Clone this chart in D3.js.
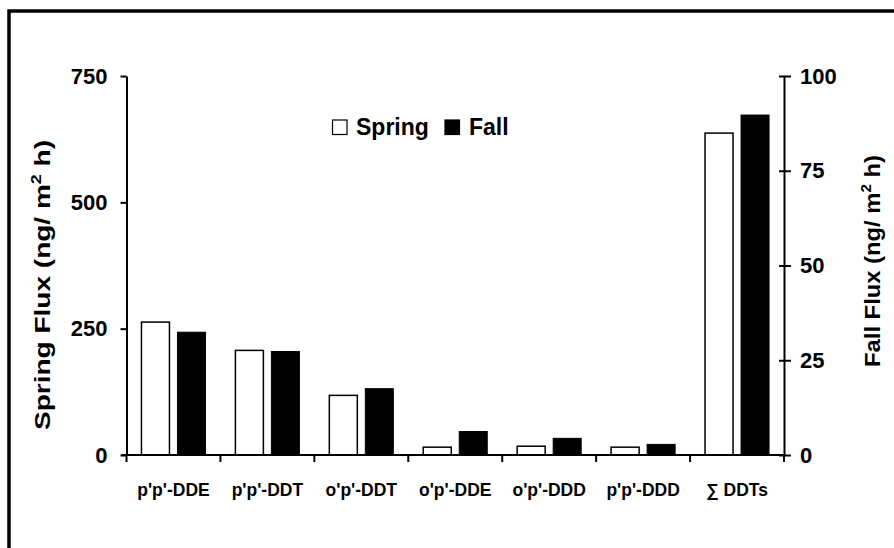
<!DOCTYPE html>
<html>
<head>
<meta charset="utf-8">
<script src="https://cdn.jsdelivr.net/npm/d3@7"></script>
<style>
  html, body { margin: 0; padding: 0; background: #fff; }
  svg { display: block; }
  text { font-family: "Liberation Sans", Arial, sans-serif; font-weight: bold; fill: #000; }
</style>
</head>
<body>
<svg id="chart" width="894" height="548"></svg>
<script>
// ---- data ----
const categories = ["p'p'-DDE", "p'p'-DDT", "o'p'-DDT", "o'p'-DDE", "o'p'-DDD", "p'p'-DDD", "\u2211 DDTs"];
const springFlux = [263, 207, 118, 15.5, 17.4, 15.5, 637];
const fallFlux   = [32.4, 27.3, 17.5, 6.2, 4.4, 2.8, 89.7];
const springTicks = [0, 250, 500, 750];
const fallTicks = [0, 25, 50, 75, 100];
const seriesNames = ["Spring", "Fall"];

const svg = d3.select("#chart");

// outer frame (extends past the picture on the right and bottom)
svg.append("rect")
  .attr("x", 9).attr("y", 11)
  .attr("width", 900).attr("height", 560)
  .attr("fill", "none").attr("stroke", "#000").attr("stroke-width", 3.5);

const x0 = 126.5, x1 = 784, yBase = 455, yTop = 76;

const x = d3.scaleBand().domain(categories).range([x0, x1]).padding(0);
const ySpring = d3.scaleLinear().domain([0, 750]).range([yBase, yTop]);
const yFall = d3.scaleLinear().domain([0, 100]).range([yBase, yTop]);

const barW = 28, gap = 8;

// bars
const g = svg.append("g");
g.selectAll("rect.spring").data(categories).join("rect")
  .attr("class", "spring")
  .attr("x", d => x(d) + x.bandwidth() / 2 - gap / 2 - barW)
  .attr("y", (d, i) => ySpring(springFlux[i]))
  .attr("width", barW)
  .attr("height", (d, i) => yBase - ySpring(springFlux[i]))
  .attr("fill", "#fff").attr("stroke", "#000").attr("stroke-width", 1.5);

g.selectAll("rect.fall").data(categories).join("rect")
  .attr("class", "fall")
  .attr("x", d => x(d) + x.bandwidth() / 2 + gap / 2)
  .attr("y", (d, i) => yFall(fallFlux[i]))
  .attr("width", barW)
  .attr("height", (d, i) => yBase - yFall(fallFlux[i]))
  .attr("fill", "#000").attr("stroke", "#000").attr("stroke-width", 1);

// left axis
const leftAxis = svg.append("g")
  .attr("transform", `translate(${x0},0)`)
  .call(d3.axisLeft(ySpring).tickValues(springTicks).tickSize(6).tickPadding(13).tickSizeOuter(0));
leftAxis.select(".domain").attr("stroke-width", 2);
leftAxis.selectAll(".tick line").attr("stroke-width", 2);
leftAxis.selectAll(".tick text").attr("font-size", 22).attr("font-family", null);

// right axis (ticks cross the line)
const rightAxis = svg.append("g")
  .attr("transform", `translate(${x1},0)`)
  .call(d3.axisRight(yFall).tickValues(fallTicks).tickSize(7).tickPadding(9).tickSizeOuter(0));
rightAxis.select(".domain").attr("stroke-width", 2);
rightAxis.selectAll(".tick line").attr("x1", -5).attr("stroke-width", 2);
rightAxis.selectAll(".tick text").attr("font-size", 22).attr("font-family", null);

// bottom axis: line with ticks at category boundaries
svg.append("line")
  .attr("x1", x0 - 5).attr("x2", x1)
  .attr("y1", yBase).attr("y2", yBase)
  .attr("stroke", "#000").attr("stroke-width", 2);
const boundaries = categories.map(c => x(c)).concat([x1]);
svg.selectAll("line.xtick").data(boundaries).join("line")
  .attr("class", "xtick")
  .attr("x1", d => d).attr("x2", d => d)
  .attr("y1", yBase).attr("y2", yBase + 7)
  .attr("stroke", "#000").attr("stroke-width", 2);

// category labels
svg.selectAll("text.cat").data(categories).join("text")
  .attr("class", "cat")
  .attr("x", d => x(d) + x.bandwidth() / 2)
  .attr("y", 496)
  .attr("text-anchor", "middle")
  .attr("font-size", 17.5)
  .text(d => d);

// axis titles
const lt = svg.append("text")
  .attr("transform", "translate(50,285) rotate(-90)")
  .attr("text-anchor", "middle")
  .attr("font-size", 22)
  .attr("textLength", 290).attr("lengthAdjust", "spacingAndGlyphs");
lt.append("tspan").text("Spring Flux (ng/ m");
lt.append("tspan").attr("font-size", 14).attr("dy", -9).text("2");
lt.append("tspan").attr("dy", 9).text(" h)");

const rt = svg.append("text")
  .attr("transform", "translate(880,261) rotate(-90)")
  .attr("text-anchor", "middle")
  .attr("font-size", 22)
  .attr("textLength", 212).attr("lengthAdjust", "spacingAndGlyphs");
rt.append("tspan").text("Fall Flux (ng/ m");
rt.append("tspan").attr("font-size", 14).attr("dy", -9).text("2");
rt.append("tspan").attr("dy", 9).text(" h)");

// legend
const legend = svg.append("g");
const legendItems = [
  {name: seriesNames[0], fill: "#fff", bx: 332.5, tx: 356},
  {name: seriesNames[1], fill: "#000", bx: 445, tx: 469}
];
legendItems.forEach(it => {
  legend.append("rect")
    .attr("x", it.bx).attr("y", 120).attr("width", 14.5).attr("height", 14.5)
    .attr("fill", it.fill).attr("stroke", "#000").attr("stroke-width", 1.2);
  legend.append("text")
    .attr("x", it.tx).attr("y", 135)
    .attr("font-size", 23)
    .text(it.name);
});
</script>
</body>
</html>
